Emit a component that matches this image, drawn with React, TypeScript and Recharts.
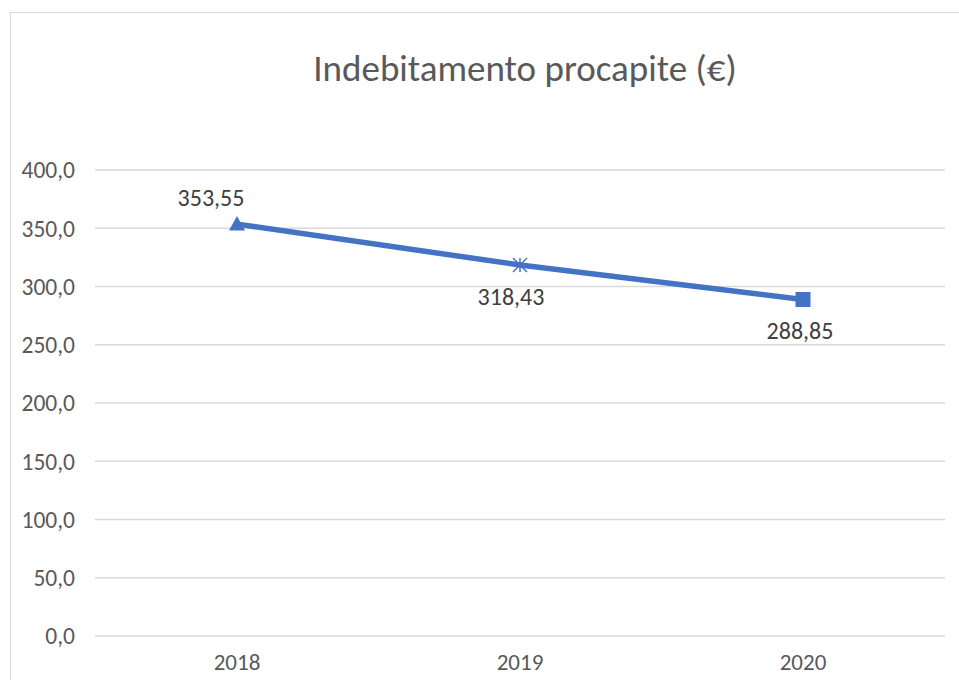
import React from "react";
import { LineChart, Line, XAxis, YAxis, CartesianGrid, LabelList } from "recharts";

const years = ["2018", "2019", "2020"];
const debtPerCapita = [353.55, 318.43, 288.85];
const yTicks = [0, 50, 100, 150, 200, 250, 300, 350, 400];
const titleText = "Indebitamento procapite (€)";

const data = years.map((y, i) => ({ year: y, value: debtPerCapita[i] }));

const FONT = "Carlito, Calibri, 'Liberation Sans', sans-serif";
const BLUE = "#4472C4";

const Marker = (props: any) => {
  const { cx, cy, index } = props;
  if (cx == null || cy == null) return null;
  if (index === 0) {
    const s = 8;
    return <path key={index} d={`M${cx},${cy - s} L${cx + s},${cy + s * 0.8} L${cx - s},${cy + s * 0.8} Z`} fill={BLUE} />;
  }
  if (index === 1) {
    const s = 7;
    return (
      <g key={index} stroke={BLUE} strokeWidth={1.5}>
        <line x1={cx - s} y1={cy - s} x2={cx + s} y2={cy + s} />
        <line x1={cx - s} y1={cy + s} x2={cx + s} y2={cy - s} />
        <line x1={cx} y1={cy - s} x2={cx} y2={cy + s} />
      </g>
    );
  }
  const s = 7.5;
  return <rect key={index} x={cx - s} y={cy - s} width={s * 2} height={s * 2} fill={BLUE} />;
};

const ValueLabel = (props: any) => {
  const { x, y, value, index } = props;
  const txt = Number(value).toFixed(2).replace(".", ",");
  const dx = index === 0 ? -26 : index === 1 ? -9 : -3;
  const dy = index === 0 ? -27 : 31;
  return (
    <text x={x + dx} y={y + dy} textAnchor="middle" dominantBaseline="central" fill="#404040" fontSize={24} fontFamily={FONT}>
      {txt}
    </text>
  );
};

export default function App() {
  return (
    <div style={{ position: "absolute", left: 0, top: 0, width: 959, height: 680, background: "#fff", overflow: "hidden" }}>
      <div style={{ position: "absolute", left: 10, top: 12, width: 960, height: 700, border: "1.5px solid #d9d9d9", boxSizing: "border-box" }} />
      <div style={{ position: "absolute", left: 0, top: 0 }}>
        <LineChart width={959} height={680} data={data} margin={{ top: 170, right: 14, bottom: 0, left: 0 }}>
          <text x={525} y={68} textAnchor="middle" dominantBaseline="central" fill="#595959" fontSize={37} fontFamily={FONT}>
            {titleText}
          </text>
          <CartesianGrid vertical={false} stroke="#d9d9d9" strokeWidth={1.5} />
          <XAxis
            dataKey="year"
            axisLine={false}
            tickLine={false}
            tickSize={0}
            tickMargin={18}
            height={44}
            padding={{ left: 142, right: 142 }}
            tick={{ fill: "#595959", fontSize: 23, fontFamily: FONT }}
          />
          <YAxis
            domain={[0, 400]}
            ticks={yTicks}
            axisLine={false}
            tickLine={false}
            tickSize={0}
            tickMargin={20}
            width={95}
            tickFormatter={(v: number) => v.toFixed(1).replace(".", ",")}
            tick={{ fill: "#595959", fontSize: 23.5, fontFamily: FONT }}
          />
          <Line
            type="linear"
            dataKey="value"
            stroke={BLUE}
            strokeWidth={5.5}
            dot={<Marker />}
            activeDot={false}
            isAnimationActive={false}
          >
            <LabelList dataKey="value" content={<ValueLabel />} />
          </Line>
        </LineChart>
      </div>
    </div>
  );
}
